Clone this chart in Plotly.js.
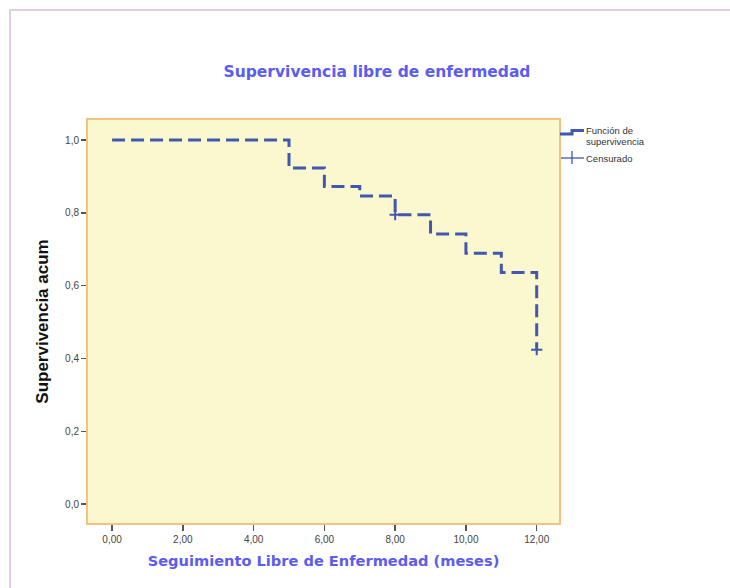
<!DOCTYPE html>
<html>
<head>
<meta charset="utf-8">
<script src="https://cdn.plot.ly/plotly-3.0.1.min.js"></script>
<style>
  html, body { margin: 0; padding: 0; background: #ffffff; }
  #frame { position: absolute; left: 9px; top: 9px; width: 730px; height: 590px;
           border-left: 2px solid #e3cde6; border-top: 2px solid #e3cde6; }
  #chart { position: absolute; left: 0; top: 0; width: 730px; height: 588px; }
</style>
</head>
<body>
<div id="frame"></div>
<div id="chart"></div>
<script>
// Kaplan-Meier step data (months, cumulative survival)
const stepTimes = [0, 5, 6, 7, 8, 9, 10, 11, 12];
const survival  = [1.0, 0.923, 0.872, 0.846, 0.795, 0.742, 0.689, 0.636, 0.424];
// Censored observations
const censTimes = [8, 12];
const censSurv  = [0.795, 0.424];

const xTicks = [0, 2, 4, 6, 8, 10, 12];
const yTicks = [0, 0.2, 0.4, 0.6, 0.8, 1.0];

const titleText = "Supervivencia libre de enfermedad";
const xTitle = "Seguimiento Libre de Enfermedad (meses)";
const yTitle = "Supervivencia acum";
const legendLines = ["Función de", "supervivencia", "Censurado"];

const blue = "#3f58b0";

const traces = [
  {
    x: stepTimes, y: survival, type: "scatter", mode: "lines",
    line: { shape: "hv", color: blue, width: 3, dash: "13px,6px" },
    showlegend: false, hoverinfo: "x+y"
  },
  {
    x: censTimes, y: censSurv, type: "scatter", mode: "markers",
    marker: { symbol: "cross-thin-open", size: 8, line: { color: blue, width: 2 }, color: blue },
    showlegend: false, hoverinfo: "x+y"
  }
];

const L = 88, R = 559, T = 120, B = 523, W = 730, H = 588;
const px = v => (v - L) / (R - L);
const py = v => (B - v) / (B - T);
const legFont = { size: 9.5, color: "#333", family: "Liberation Sans, Arial, sans-serif" };

const layout = {
  width: W, height: H,
  margin: { l: L, r: W - R, t: T, b: H - B, pad: 0 },
  paper_bgcolor: "rgba(0,0,0,0)",
  plot_bgcolor: "#fbf8cf",
  separators: ",.",
  font: { family: "Liberation Sans, Arial, sans-serif", size: 10, color: "#444" },
  title: {
    text: titleText, xref: "container", x: 377 / W, xanchor: "center",
    yref: "container", y: 1 - 72 / H, yanchor: "middle",
    font: { family: "DejaVu Sans, sans-serif", size: 15.5, color: "#5b5cf2", weight: "bold" }
  },
  xaxis: {
    range: [-0.68, 12.63], tickvals: xTicks, tickformat: ".2f",
    ticks: "outside", ticklen: 6, tickwidth: 1.5, tickcolor: "#555",
    showgrid: false, zeroline: false,
    showline: true, mirror: true, linecolor: "#f2c27e", linewidth: 2,
    tickfont: { size: 10, color: "#444" },
    title: { text: xTitle, standoff: 12,
      font: { family: "DejaVu Sans, sans-serif", size: 14.6, color: "#5b5cf2", weight: "bold" } }
  },
  yaxis: {
    range: [-0.052, 1.055], tickvals: yTicks, tickformat: ".1f",
    ticks: "outside", ticklen: 5, tickwidth: 1.5, tickcolor: "#555",
    showgrid: false, zeroline: false,
    showline: true, mirror: true, linecolor: "#f2c27e", linewidth: 2,
    tickfont: { size: 10, color: "#444" },
    title: { text: yTitle, standoff: 12,
      font: { family: "Liberation Sans, Arial, sans-serif", size: 17, color: "#111", weight: "bold" } }
  },
  shapes: [
    { type: "path", xref: "paper", yref: "paper",
      path: `M ${px(560)} ${py(134)} L ${px(572)} ${py(134)} L ${px(572)} ${py(130.5)} L ${px(584)} ${py(130.5)}`,
      line: { color: blue, width: 3 } },
    { type: "line", xref: "paper", yref: "paper",
      x0: px(561), x1: px(584), y0: py(158), y1: py(158), line: { color: blue, width: 1.3 } },
    { type: "line", xref: "paper", yref: "paper",
      x0: px(572), x1: px(572), y0: py(151), y1: py(164), line: { color: blue, width: 1.3 } }
  ],
  annotations: [
    { xref: "paper", yref: "paper", x: px(584), y: py(130), xanchor: "left", yanchor: "middle",
      text: legendLines[0], showarrow: false, align: "left", font: legFont },
    { xref: "paper", yref: "paper", x: px(584), y: py(142), xanchor: "left", yanchor: "middle",
      text: legendLines[1], showarrow: false, align: "left", font: legFont },
    { xref: "paper", yref: "paper", x: px(584), y: py(158), xanchor: "left", yanchor: "middle",
      text: legendLines[2], showarrow: false, align: "left", font: legFont }
  ]
};

Plotly.newPlot("chart", traces, layout, { displayModeBar: false, staticPlot: true });
</script>
</body>
</html>
